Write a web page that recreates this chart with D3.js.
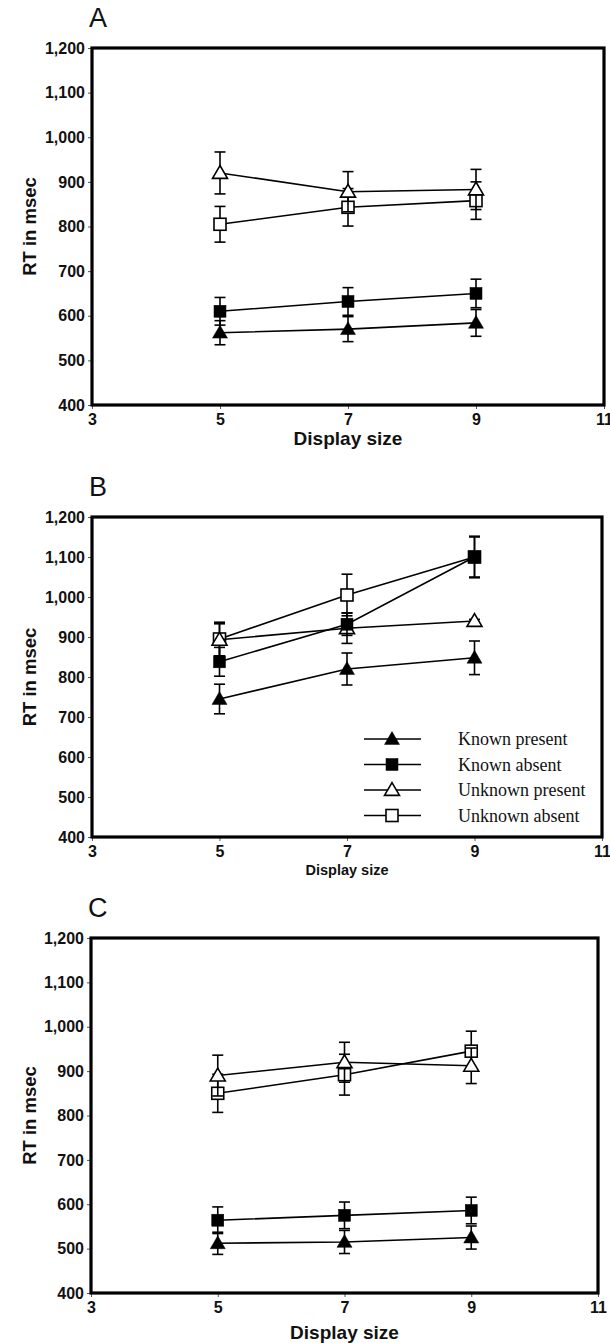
<!DOCTYPE html>
<html>
<head>
<meta charset="utf-8">
<script src="https://cdn.jsdelivr.net/npm/d3@7/dist/d3.min.js"></script>
<style>
  html, body { margin: 0; padding: 0; background: #fff; }
  svg { display: block; }
</style>
</head>
<body>
<svg id="chart" width="610" height="1343"></svg>
<script>
// ---------- DATA ----------
const displaySizes = [5, 7, 9];
const xTickValues = [3, 5, 7, 9, 11];
const yTickValues = [400, 500, 600, 700, 800, 900, 1000, 1100, 1200];
const seriesNames = ["Known present", "Known absent", "Unknown present", "Unknown absent"];
const panelLetters = ["A", "B", "C"];

// Panel A
const aKnownPresent = [562, 570, 584];
const aKnownPresentErr = [27, 28, 30];
const aKnownAbsent = [610, 632, 650];
const aKnownAbsentErr = [31, 31, 32];
const aUnknownPresent = [920, 878, 883];
const aUnknownPresentErr = [47, 45, 45];
const aUnknownAbsent = [805, 843, 858];
const aUnknownAbsentErr = [40, 42, 42];

// Panel B
const bKnownPresent = [745, 820, 848];
const bKnownPresentErr = [37, 40, 42];
const bKnownAbsent = [838, 932, 1100];
const bKnownAbsentErr = [36, 28, 52];
const bUnknownPresent = [893, 922, 940];
const bUnknownPresentErr = [40, 38, 4];
const bUnknownAbsent = [895, 1005, 1100];
const bUnknownAbsentErr = [42, 52, 50];

// Panel C
const cKnownPresent = [512, 515, 525];
const cKnownPresentErr = [25, 26, 26];
const cKnownAbsent = [564, 575, 586];
const cKnownAbsentErr = [30, 30, 30];
const cUnknownPresent = [890, 920, 912];
const cUnknownPresentErr = [46, 45, 40];
const cUnknownAbsent = [850, 892, 945];
const cUnknownAbsentErr = [43, 46, 45];

// ---------- LAYOUT ----------
const panels = [
  { letter: panelLetters[0], left: 92, right: 604, top: 48, bottom: 405,
    values: [aKnownPresent, aKnownAbsent, aUnknownPresent, aUnknownAbsent],
    errs: [aKnownPresentErr, aKnownAbsentErr, aUnknownPresentErr, aUnknownAbsentErr],
    titleY: 438, titleSize: 19, legend: false },
  { letter: panelLetters[1], left: 92, right: 602, top: 517, bottom: 837,
    values: [bKnownPresent, bKnownAbsent, bUnknownPresent, bUnknownAbsent],
    errs: [bKnownPresentErr, bKnownAbsentErr, bUnknownPresentErr, bUnknownAbsentErr],
    titleY: 870, titleSize: 14.5, legend: true },
  { letter: panelLetters[2], left: 91, right: 598, top: 938, bottom: 1293,
    values: [cKnownPresent, cKnownAbsent, cUnknownPresent, cUnknownAbsent],
    errs: [cKnownPresentErr, cKnownAbsentErr, cUnknownPresentErr, cUnknownAbsentErr],
    titleY: 1332, titleSize: 19, legend: false }
];

const seriesStyle = [
  { shape: "triangle", filled: true },
  { shape: "square", filled: true },
  { shape: "triangle", filled: false },
  { shape: "square", filled: false }
];
const drawOrder = [3, 2, 1, 0];

const svg = d3.select("#chart");
const sansFont = "'Liberation Sans', Arial, Helvetica, sans-serif";
const serifFont = "'Liberation Serif', 'Times New Roman', serif";

function drawMarker(g, style, cx, cy, size) {
  const fill = style.filled ? "#000" : "#fff";
  if (style.shape === "square") {
    const s = size;
    g.append("rect").attr("x", cx - s / 2).attr("y", cy - s / 2)
      .attr("width", s).attr("height", s)
      .attr("fill", fill).attr("stroke", "#000").attr("stroke-width", style.filled ? 0.5 : 1.6);
  } else {
    const w = size + 3, h = size;
    g.append("path")
      .attr("d", `M${cx},${cy - h * 0.62} L${cx + w / 2},${cy + h * 0.45} L${cx - w / 2},${cy + h * 0.45} Z`)
      .attr("fill", fill).attr("stroke", "#000").attr("stroke-width", style.filled ? 0.5 : 1.6)
      .attr("stroke-linejoin", "miter");
  }
}

panels.forEach(p => {
  const x = d3.scaleLinear().domain([3, 11]).range([p.left, p.right]);
  const y = d3.scaleLinear().domain([400, 1200]).range([p.bottom, p.top]);
  const g = svg.append("g");

  const yAxis = d3.axisLeft(y).tickValues(yTickValues).tickSize(4).tickPadding(3)
    .tickFormat(d3.format(","));
  const ya = g.append("g").attr("transform", `translate(${p.left},0)`).call(yAxis);
  ya.select(".domain").remove();
  ya.selectAll(".tick line").attr("stroke", "#555").attr("stroke-width", 1);
  ya.selectAll(".tick text").attr("font-family", sansFont).attr("font-weight", "bold")
    .attr("font-size", 16).attr("fill", "#111");

  const xAxis = d3.axisBottom(x).tickValues(xTickValues).tickSize(4).tickPadding(5)
    .tickFormat(d3.format("d"));
  const xa = g.append("g").attr("transform", `translate(0,${p.bottom})`).call(xAxis);
  xa.select(".domain").remove();
  xa.selectAll(".tick line").attr("stroke", "#555").attr("stroke-width", 1);
  xa.selectAll(".tick text").attr("font-family", sansFont).attr("font-weight", "bold")
    .attr("font-size", 16).attr("fill", "#111");

  g.append("rect").attr("x", p.left).attr("y", p.top)
    .attr("width", p.right - p.left).attr("height", p.bottom - p.top)
    .attr("fill", "none").attr("stroke", "#000").attr("stroke-width", 3.2);

  g.append("text").attr("x", p.left - 3).attr("y", p.top - 21)
    .attr("font-family", sansFont).attr("font-size", 27).attr("fill", "#111")
    .text(p.letter);

  g.append("text")
    .attr("transform", `translate(29,${(p.top + p.bottom) / 2}) rotate(-90)`)
    .attr("text-anchor", "middle").attr("dominant-baseline", "central")
    .attr("font-family", sansFont).attr("font-weight", "bold").attr("font-size", 18.5)
    .attr("fill", "#111").text("RT in msec");
  g.append("text").attr("x", (p.left + p.right) / 2).attr("y", p.titleY)
    .attr("text-anchor", "middle").attr("dominant-baseline", "central")
    .attr("font-family", sansFont).attr("font-weight", "bold").attr("font-size", p.titleSize)
    .attr("fill", "#111").text("Display size");

  const line = d3.line().x((d, i) => x(displaySizes[i])).y(d => y(d));
  drawOrder.forEach(si => {
    const vals = p.values[si], errs = p.errs[si];
    const sg = g.append("g");
    sg.append("path").datum(vals).attr("d", line)
      .attr("fill", "none").attr("stroke", "#000").attr("stroke-width", 1.6);
    vals.forEach((v, i) => {
      const cx = x(displaySizes[i]);
      const e = errs[i];
      const y1 = y(v + e), y2 = y(v - e);
      sg.append("line").attr("x1", cx).attr("x2", cx).attr("y1", y1).attr("y2", y2)
        .attr("stroke", "#000").attr("stroke-width", 1.6);
      [y1, y2].forEach(yy => sg.append("line").attr("x1", cx - 5.5).attr("x2", cx + 5.5)
        .attr("y1", yy).attr("y2", yy).attr("stroke", "#000").attr("stroke-width", 1.6));
    });
    vals.forEach((v, i) => {
      drawMarker(sg, seriesStyle[si], x(displaySizes[i]), y(v), 12);
    });
  });

  if (p.legend) {
    const lx1 = 364, lx2 = 421, mx = 392, tx = 458;
    const ly0 = 739, dy = 25.5;
    seriesNames.forEach((name, i) => {
      const yy = ly0 + i * dy;
      const lg = g.append("g");
      lg.append("line").attr("x1", lx1).attr("x2", lx2).attr("y1", yy).attr("y2", yy)
        .attr("stroke", "#000").attr("stroke-width", 1.4);
      drawMarker(lg, seriesStyle[i], mx, yy, 12);
      lg.append("text").attr("x", tx).attr("y", yy).attr("dominant-baseline", "central")
        .attr("font-family", serifFont).attr("font-size", 18).attr("fill", "#111")
        .text(name);
    });
  }
});
</script>
</body>
</html>
